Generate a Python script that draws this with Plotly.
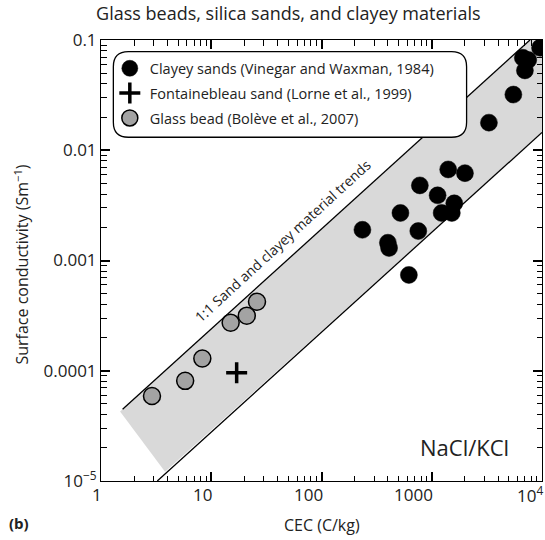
import math
import plotly.graph_objects as go

# Clayey sands (Vinegar and Waxman, 1984)
cec_clay = [235, 400, 410, 520, 755, 780, 620, 1130, 1410, 2000, 1230, 1520,
            1600, 3300, 5500, 7000, 6700, 7500, 9600]
sigma_clay = [1.9e-3, 1.45e-3, 1.3e-3, 2.7e-3, 1.85e-3, 4.8e-3, 7.4e-4, 3.9e-3,
              6.7e-3, 6.2e-3, 2.7e-3, 2.7e-3, 3.3e-3, 0.0178, 0.032, 0.053,
              0.069, 0.066, 0.085]

# Fontainebleau sand (Lorne et al., 1999)
cec_fontainebleau = [17]
sigma_fontainebleau = [9.6e-5]

# Glass beads (Bolève et al., 2007)
cec_glass = [2.9, 5.8, 8.3, 15, 21, 26]
sigma_glass = [5.9e-5, 8.1e-5, 1.29e-4, 2.73e-4, 3.16e-4, 4.23e-4]

# Sand and clayey material trend band (edges and shaded envelope)
upper_edge_cec = [1.57, 7780]
upper_edge_sigma = [4.47e-5, 0.1]
lower_edge_cec = [3.24, 10000]
lower_edge_sigma = [1.0e-5, 0.0145]
band_cec = [1.49, 7780, 10000, 10000, 3.81]
band_sigma = [4.26e-5, 0.1, 0.1, 0.0145, 1.21e-5]

x_tickvals = [1, 10, 100, 1000, 10000]
x_ticktext = ["1", "10", "100", "1000", "10<sup>4</sup>"]
y_tickvals = [1e-5, 1e-4, 1e-3, 1e-2, 1e-1]
y_ticktext = ["10<sup>\u22125</sup>", "0.0001", "0.001", "0.01", "0.1"]

# minor tick positions: 2..9 within each decade
x_minor = [m * 10 ** d for d in range(0, 4) for m in range(2, 10)]
y_minor = [m * 10.0 ** d for d in range(-5, -1) for m in range(2, 10)]

FONT = "Open Sans, Noto Sans, DejaVu Sans, sans-serif"
INK = "#222"

fig = go.Figure()

fig.add_trace(go.Scatter(
    x=band_cec, y=band_sigma, mode="lines", fill="toself",
    fillcolor="#d9d9d9", line=dict(width=0), hoverinfo="skip", showlegend=False))
fig.add_trace(go.Scatter(
    x=upper_edge_cec, y=upper_edge_sigma, mode="lines",
    line=dict(color="black", width=1.3), hoverinfo="skip", showlegend=False))
fig.add_trace(go.Scatter(
    x=lower_edge_cec, y=lower_edge_sigma, mode="lines",
    line=dict(color="black", width=1.3), hoverinfo="skip", showlegend=False))

fig.add_trace(go.Scatter(
    x=cec_clay, y=sigma_clay, mode="markers", legendgroup="a",
    name="Clayey sands (Vinegar and Waxman, 1984)",
    marker=dict(symbol="circle", size=17, color="black",
                line=dict(color="black", width=0.5))))
fig.add_trace(go.Scatter(
    x=cec_fontainebleau, y=sigma_fontainebleau, mode="markers", legendgroup="b",
    name="Fontainebleau sand (Lorne et al., 1999)",
    marker=dict(symbol="cross-thin", size=15, color="black",
                line=dict(color="black", width=3.5))))
fig.add_trace(go.Scatter(
    x=cec_glass, y=sigma_glass, mode="markers", legendgroup="c",
    name="Glass bead (Bolève et al., 2007)",
    marker=dict(symbol="circle", size=17, color="#a3a3a3",
                line=dict(color="black", width=1.5))))

axis_common = dict(
    type="log", showgrid=False, zeroline=False,
    showline=True, linecolor="black", mirror="ticks",
    ticks="inside", ticklen=9, tickwidth=1.5, tickcolor="black",
    tickmode="array",
    tickfont=dict(family=FONT, size=17, color=INK),
)

# x tick labels are drawn as annotations (right-aligned against each tick)
fig.update_xaxes(**axis_common, range=[0, 4],
                 tickvals=x_tickvals, ticktext=x_ticktext, showticklabels=False,
                 minor=dict(tickvals=x_minor, ticks="inside", ticklen=5.5,
                            tickwidth=1.2, tickcolor="black", showgrid=False))
fig.update_yaxes(**axis_common, range=[-5, -1],
                 tickvals=y_tickvals, ticktext=y_ticktext,
                 minor=dict(tickvals=y_minor, ticks="inside", ticklen=5.5,
                            tickwidth=1.2, tickcolor="black", showgrid=False))

for v, t in zip(x_tickvals, x_ticktext):
    fig.add_annotation(text=t, x=math.log10(v), y=-0.03, xref="x", yref="paper",
                       xanchor="right", yanchor="middle", xshift=3,
                       showarrow=False, font=dict(family=FONT, size=17, color=INK))

# Rounded legend frame
x0, x1, y0, y1 = 0.028, 0.829, 0.7795, 0.9735
rx, ry = 0.034, 0.034
frame = (f"M {x0+rx},{y1} L {x1-rx},{y1} Q {x1},{y1} {x1},{y1-ry} "
         f"L {x1},{y0+ry} Q {x1},{y0} {x1-rx},{y0} L {x0+rx},{y0} "
         f"Q {x0},{y0} {x0},{y0+ry} L {x0},{y1-ry} Q {x0},{y1} {x0+rx},{y1} Z")
fig.add_shape(type="path", path=frame, xref="paper", yref="paper",
              fillcolor="white", line=dict(color="black", width=1.3),
              layer="above")

fig.update_layout(
    width=545, height=540,
    margin=dict(l=101, r=3, t=40, b=59),
    paper_bgcolor="white", plot_bgcolor="white",
    font=dict(family=FONT, color=INK),
    title=dict(text="Glass beads, silica sands, and clayey materials",
               x=0.529, xanchor="center", y=0.974, yanchor="middle",
               xref="container", yref="container",
               font=dict(family=FONT, size=18, color=INK)),
    legend=dict(x=0.02, y=0.972, xanchor="left", yanchor="top",
                bgcolor="rgba(0,0,0,0)", borderwidth=0,
                traceorder="grouped", tracegroupgap=3,
                font=dict(family=FONT, size=14.5, color=INK)),
    showlegend=True,
)

fig.add_annotation(text="1:1 Sand and clayey material trends",
                   x=1.651, y=-2.823, xref="x", yref="y", showarrow=False,
                   xanchor="center", yanchor="middle",
                   textangle=-42.5, font=dict(family=FONT, size=14, color=INK))
fig.add_annotation(text="NaCl/KCl", x=0.824, y=0.078, xref="paper", yref="paper",
                   xanchor="center", yanchor="middle", showarrow=False,
                   font=dict(family=FONT, size=22, color=INK))
fig.add_annotation(text="CEC (C/kg)", x=0.502, y=-0.1, xref="paper", yref="paper",
                   xanchor="center", yanchor="middle", showarrow=False,
                   font=dict(family=FONT, size=16, color=INK))
fig.add_annotation(text="Surface conductivity (Sm<sup>\u22121</sup>)",
                   x=-0.18, y=0.49, xref="paper", yref="paper", textangle=-90,
                   xanchor="center", yanchor="middle", showarrow=False,
                   font=dict(family=FONT, size=16, color=INK))
fig.add_annotation(text="<b>(b)</b>", x=-0.213, y=-0.095, xref="paper", yref="paper",
                   xanchor="left", yanchor="middle", showarrow=False,
                   font=dict(family=FONT, size=15, color=INK))

fig.write_html("out.html")
